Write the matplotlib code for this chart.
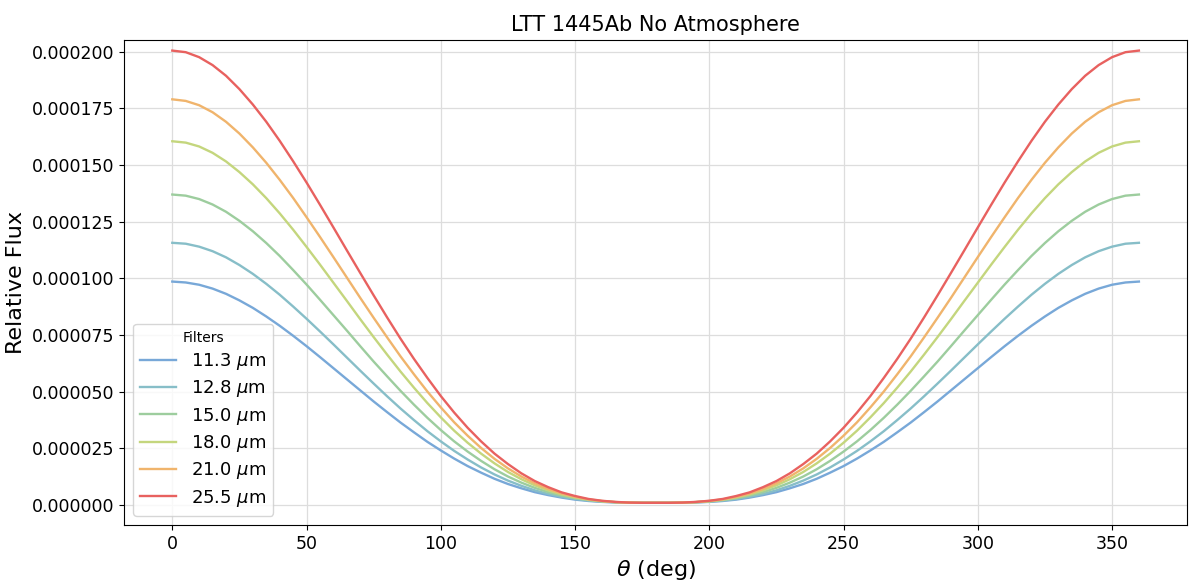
import numpy as np
import matplotlib
matplotlib.use("Agg")
import matplotlib.pyplot as plt

# phase angle (deg)
theta = np.arange(0, 361, 5)

# relative flux, in units of 1e-6
flux_11_3 = [98.6, 98.2, 97.2, 95.5, 93.2, 90.3, 87.0, 83.2, 79.1, 74.7, 70.1, 65.3, 60.4, 55.5, 50.6, 45.7, 41.0, 36.4,
             32.1, 27.9, 24.1, 20.5, 17.2, 14.3, 11.6, 9.3, 7.4, 5.7, 4.4, 3.3, 2.4, 1.8, 1.4, 1.2, 1.1, 1.0, 1.0,
             1.0, 1.1, 1.2, 1.4, 1.8, 2.4, 3.3, 4.4, 5.7, 7.4, 9.3, 11.6, 14.3, 17.2, 20.5, 24.1, 27.9,
             32.1, 36.4, 41.0, 45.7, 50.6, 55.5, 60.4, 65.3, 70.1, 74.7, 79.1, 83.2, 87.0, 90.3, 93.2, 95.5, 97.2, 98.2, 98.6]
flux_12_8 = [115.7, 115.3, 114.0, 112.0, 109.3, 105.9, 102.0, 97.6, 92.8, 87.6, 82.2, 76.6, 70.9, 65.1, 59.3, 53.6, 48.0, 42.6,
             37.5, 32.6, 28.1, 23.9, 20.1, 16.6, 13.5, 10.8, 8.5, 6.5, 4.9, 3.7, 2.7, 2.0, 1.5, 1.2, 1.1, 1.0, 1.0,
             1.0, 1.1, 1.2, 1.5, 2.0, 2.7, 3.7, 4.9, 6.5, 8.5, 10.8, 13.5, 16.6, 20.1, 23.9, 28.1, 32.6,
             37.5, 42.6, 48.0, 53.6, 59.3, 65.1, 70.9, 76.6, 82.2, 87.6, 92.8, 97.6, 102.0, 105.9, 109.3, 112.0, 114.0, 115.3, 115.7]
flux_15_0 = [137.0, 136.5, 135.0, 132.6, 129.4, 125.4, 120.8, 115.6, 109.9, 103.7, 97.3, 90.6, 83.8, 77.0, 70.1, 63.3, 56.8, 50.4,
             44.3, 38.5, 33.1, 28.1, 23.6, 19.5, 15.8, 12.6, 9.9, 7.6, 5.7, 4.2, 3.0, 2.2, 1.6, 1.3, 1.1, 1.0, 1.0,
             1.0, 1.1, 1.3, 1.6, 2.2, 3.0, 4.2, 5.7, 7.6, 9.9, 12.6, 15.8, 19.5, 23.6, 28.1, 33.1, 38.5,
             44.3, 50.4, 56.8, 63.3, 70.1, 77.0, 83.8, 90.6, 97.3, 103.7, 109.9, 115.6, 120.8, 125.4, 129.4, 132.6, 135.0, 136.5, 137.0]
flux_18_0 = [160.5, 159.9, 158.2, 155.4, 151.6, 146.9, 141.5, 135.4, 128.7, 121.5, 113.9, 106.1, 98.1, 90.1, 82.0, 74.1, 66.4, 58.9,
             51.8, 45.0, 38.7, 32.8, 27.5, 22.7, 18.4, 14.6, 11.4, 8.7, 6.5, 4.7, 3.4, 2.4, 1.7, 1.3, 1.1, 1.0, 1.0,
             1.0, 1.1, 1.3, 1.7, 2.4, 3.4, 4.7, 6.5, 8.7, 11.4, 14.6, 18.4, 22.7, 27.5, 32.8, 38.7, 45.0,
             51.8, 58.9, 66.4, 74.1, 82.0, 90.1, 98.1, 106.1, 113.9, 121.5, 128.7, 135.4, 141.5, 146.9, 151.6, 155.4, 158.2, 159.9, 160.5]
flux_21_0 = [179.0, 178.3, 176.4, 173.3, 169.1, 163.9, 157.8, 151.0, 143.5, 135.5, 127.0, 118.3, 109.4, 100.4, 91.4, 82.6, 74.0, 65.6,
             57.7, 50.1, 43.1, 36.5, 30.6, 25.2, 20.4, 16.2, 12.6, 9.6, 7.1, 5.1, 3.6, 2.5, 1.8, 1.3, 1.1, 1.0, 1.0,
             1.0, 1.1, 1.3, 1.8, 2.5, 3.6, 5.1, 7.1, 9.6, 12.6, 16.2, 20.4, 25.2, 30.6, 36.5, 43.1, 50.1,
             57.7, 65.6, 74.0, 82.6, 91.4, 100.4, 109.4, 118.3, 127.0, 135.5, 143.5, 151.0, 157.8, 163.9, 169.1, 173.3, 176.4, 178.3, 179.0]
flux_25_5 = [200.5, 199.8, 197.6, 194.1, 189.4, 183.5, 176.7, 169.1, 160.7, 151.7, 142.3, 132.5, 122.5, 112.4, 102.4, 92.5, 82.8, 73.4,
             64.5, 56.1, 48.1, 40.8, 34.1, 28.1, 22.7, 18.1, 14.0, 10.6, 7.9, 5.6, 4.0, 2.7, 1.9, 1.4, 1.1, 1.0, 1.0,
             1.0, 1.1, 1.4, 1.9, 2.7, 4.0, 5.6, 7.9, 10.6, 14.0, 18.1, 22.7, 28.1, 34.1, 40.8, 48.1, 56.1,
             64.5, 73.4, 82.8, 92.5, 102.4, 112.4, 122.5, 132.5, 142.3, 151.7, 160.7, 169.1, 176.7, 183.5, 189.4, 194.1, 197.6, 199.8, 200.5]

filters = ["11.3", "12.8", "15.0", "18.0", "21.0", "25.5"]
series = [flux_11_3, flux_12_8, flux_15_0, flux_18_0, flux_21_0, flux_25_5]
colors = ["#78a8d8", "#87bec8", "#9dcd9e", "#c4d67d", "#f0b46c", "#e8615f"]

fig, ax = plt.subplots(figsize=(11.92, 5.84), dpi=100)

for name, vals, c in zip(filters, series, colors):
    ax.plot(theta, np.array(vals) * 1e-6, color=c, lw=1.7, label=name + r" $\mu$m")

ax.set_xlim(-18, 378)
ax.set_ylim(-8.8e-6, 2.053e-4)
ax.set_yticks(np.arange(0, 0.000201, 0.000025))
ax.yaxis.set_major_formatter(matplotlib.ticker.FormatStrFormatter("%.6f"))
ax.tick_params(labelsize=12.5)
ax.grid(True, color="#dddddd", lw=0.9)

ax.set_title("LTT 1445Ab No Atmosphere", fontsize=15)
ax.set_xlabel(r"$\theta$ (deg)", fontsize=16)
ax.set_ylabel("Relative Flux", fontsize=16)

leg = ax.legend(title="Filters", loc="lower left", fontsize=13, title_fontsize=10,
                labelspacing=0.35)

fig.subplots_adjust(left=0.104, right=0.996, top=0.932, bottom=0.101)
fig.savefig("out.png", dpi=100)
